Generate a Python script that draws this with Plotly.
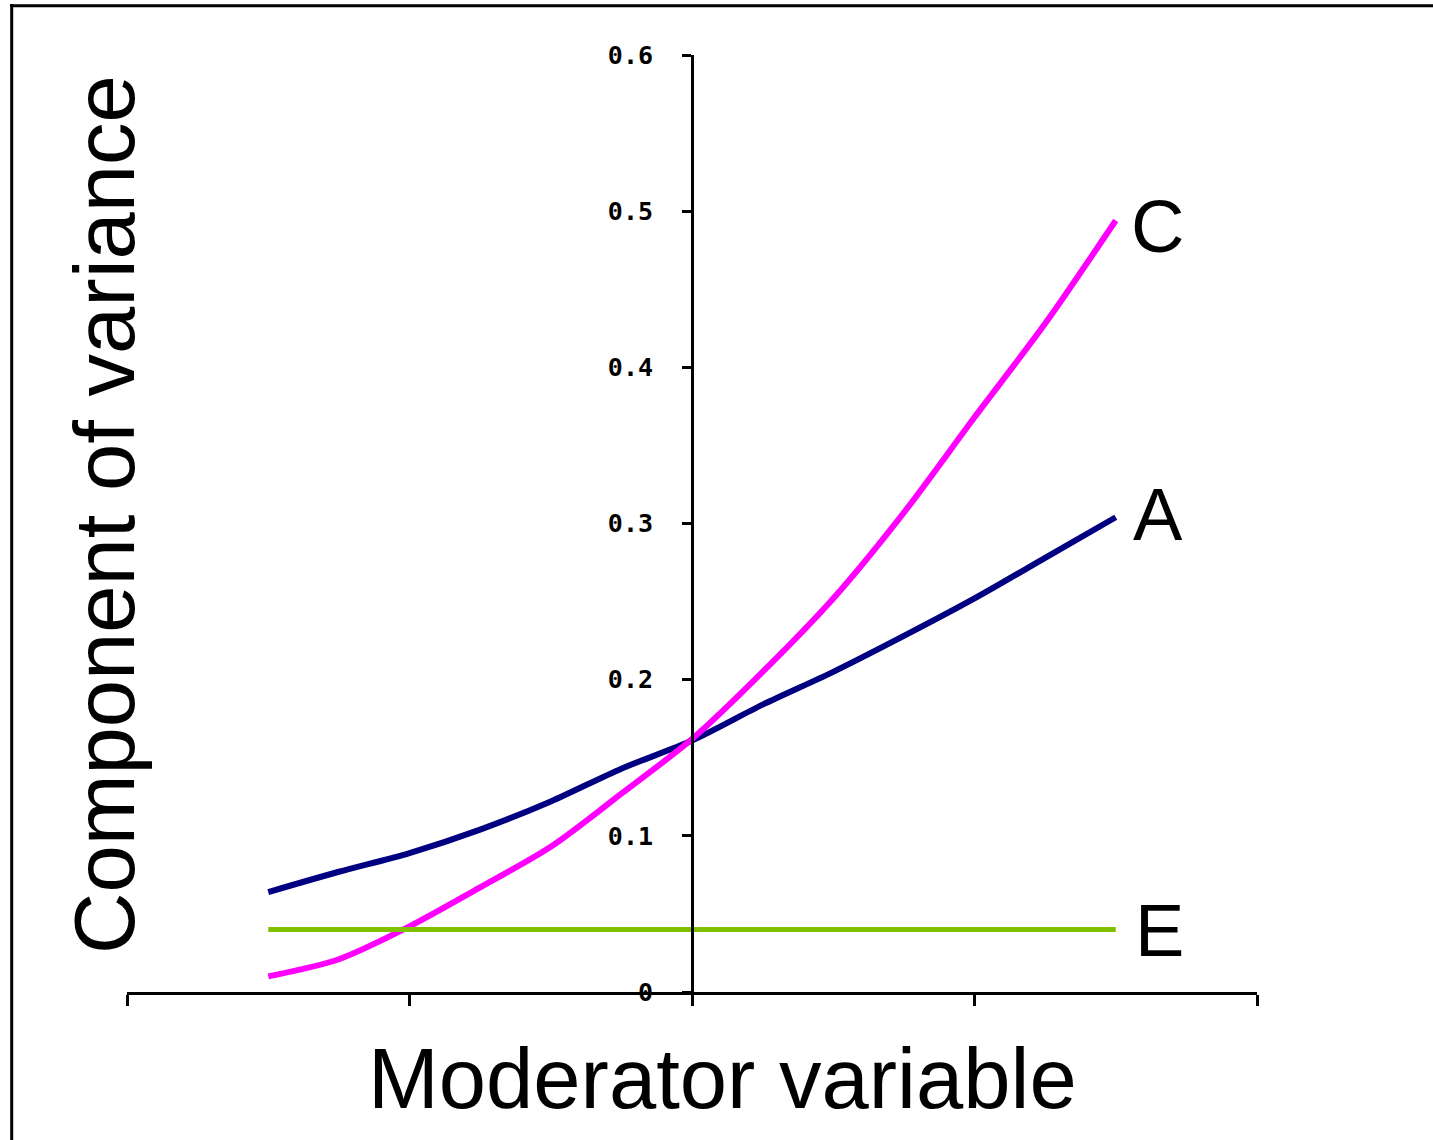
import plotly.graph_objects as go

# ---- data ----
x_vals = [-1.5, -1.25, -1.0, -0.75, -0.5, -0.25, 0.0, 0.25, 0.5, 0.75, 1.0, 1.25, 1.5]
series_A = [0.064, 0.077, 0.089, 0.104, 0.122, 0.143, 0.161, 0.184, 0.205, 0.228, 0.252, 0.278, 0.304]
series_C = [0.010, 0.021, 0.042, 0.067, 0.093, 0.127, 0.162, 0.205, 0.252, 0.307, 0.368, 0.428, 0.494]
series_E = [0.04, 0.04, 0.04, 0.04, 0.04, 0.04, 0.04, 0.04, 0.04, 0.04, 0.04, 0.04, 0.04]
x_ticks = [-2, -1, 0, 1, 2]
y_ticks = [0, 0.1, 0.2, 0.3, 0.4, 0.5, 0.6]
y_tick_labels = ["0", "0.1", "0.2", "0.3", "0.4", "0.5", "0.6"]
series_names = ["A", "C", "E"]

W, H = 1433, 1140
L, R, T, B = 127, 176, 55, 148
PW, PH = W - L - R, H - T - B


def px_x(p):
    return (p - L) / PW


def px_y(p):
    return (H - B - p) / PH


fig = go.Figure()
fig.add_trace(go.Scatter(x=x_vals, y=series_A, mode="lines", name=series_names[0],
                         line=dict(color="#000080", width=6, shape="spline", smoothing=0.8)))
fig.add_trace(go.Scatter(x=x_vals, y=series_C, mode="lines", name=series_names[1],
                         line=dict(color="#FF00FF", width=6, shape="spline", smoothing=0.8)))
fig.add_trace(go.Scatter(x=x_vals, y=series_E, mode="lines", name=series_names[2],
                         line=dict(color="#80C000", width=5)))

big_font = dict(family="Liberation Sans, Arial, sans-serif", color="black")

annotations = [
    dict(text="Moderator variable", x=px_x(722), y=px_y(1078), xref="paper", yref="paper",
         showarrow=False, xanchor="center", yanchor="middle", font=dict(size=85, **big_font)),
    dict(text="Component of variance", x=px_x(104), y=px_y(515), xref="paper", yref="paper",
         showarrow=False, xanchor="center", yanchor="middle", textangle=-90,
         font=dict(size=85, **big_font)),
    dict(text=series_names[1], x=px_x(1129), y=px_y(226), xref="paper", yref="paper",
         showarrow=False, xanchor="left", yanchor="middle", font=dict(size=74, **big_font)),
    dict(text=series_names[0], x=px_x(1131), y=px_y(514), xref="paper", yref="paper",
         showarrow=False, xanchor="left", yanchor="middle", font=dict(size=74, **big_font)),
    dict(text=series_names[2], x=px_x(1133), y=px_y(930), xref="paper", yref="paper",
         showarrow=False, xanchor="left", yanchor="middle", font=dict(size=74, **big_font)),
]

shapes = [
    dict(type="line", xref="paper", yref="paper", x0=px_x(11.7), x1=px_x(11.7),
         y0=px_y(4), y1=px_y(H + 20), line=dict(color="black", width=3)),
    dict(type="line", xref="paper", yref="paper", x0=px_x(10), x1=px_x(W + 20),
         y0=px_y(5.7), y1=px_y(5.7), line=dict(color="black", width=3)),
]

fig.update_layout(
    width=W, height=H,
    margin=dict(l=L, r=R, t=T, b=B, pad=0),
    paper_bgcolor="white", plot_bgcolor="white",
    showlegend=False,
    annotations=annotations,
    shapes=shapes,
    xaxis=dict(range=[-2, 2], domain=[0, 1], showgrid=False, zeroline=False,
               showline=True, linecolor="black", linewidth=3,
               ticks="outside", ticklen=11, tickwidth=3, tickcolor="black",
               tickvals=x_ticks, showticklabels=False),
    yaxis=dict(range=[0, 0.6], anchor="free", position=0.5, showgrid=False, zeroline=False,
               showline=True, linecolor="black", linewidth=3,
               ticks="outside", ticklen=9, tickwidth=3, tickcolor="black",
               tickvals=y_ticks, ticktext=y_tick_labels, ticklabelstandoff=24,
               tickfont=dict(family="DejaVu Sans Mono, monospace", size=25, color="black",
                             weight="bold")),
)

fig.write_html("out.html")
